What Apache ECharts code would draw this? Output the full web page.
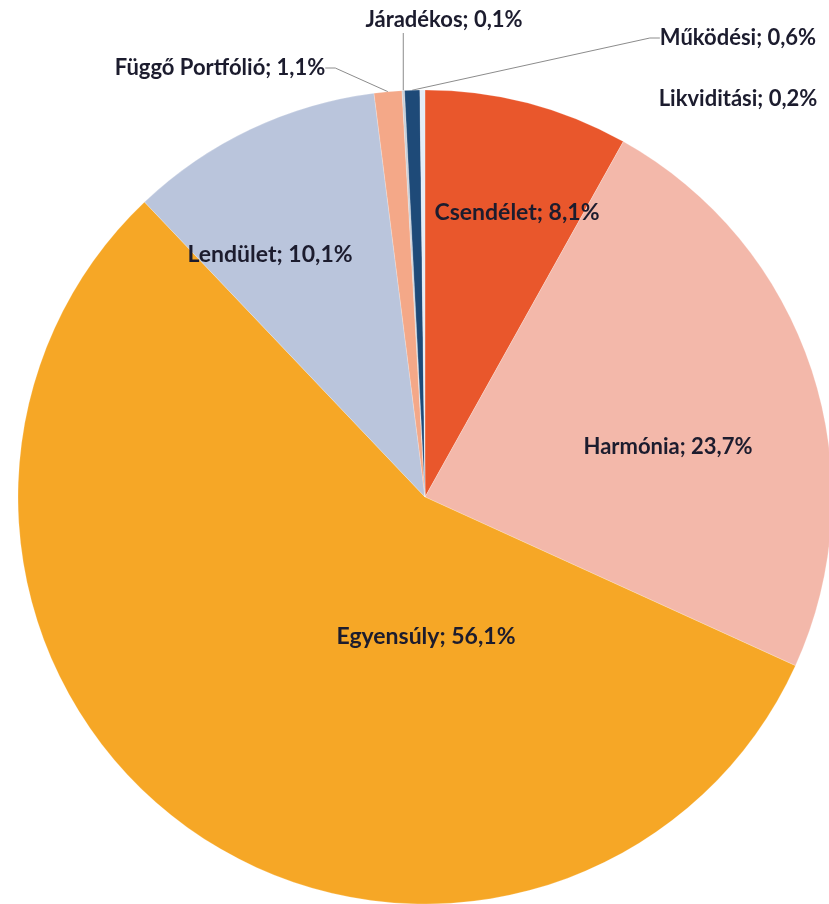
<!DOCTYPE html>
<html>
<head>
<meta charset="utf-8">
<script src="https://cdn.jsdelivr.net/npm/echarts@6/dist/echarts.min.js"></script>
<style>
html,body{margin:0;padding:0;background:#fff;}
#chart{width:829px;height:904px;}
</style>
</head>
<body>
<div id="chart"></div>
<script>
// Data (clockwise from 12 o'clock)
const categories = ['Csendélet', 'Harmónia', 'Egyensúly', 'Lendület', 'Függő Portfólió', 'Járadékos', 'Működési', 'Likviditási'];
const values = [8.1, 23.7, 56.1, 10.1, 1.1, 0.1, 0.6, 0.2];
const labelTexts = ['Csendélet; 8,1%', 'Harmónia; 23,7%', 'Egyensúly; 56,1%', 'Lendület; 10,1%', 'Függő Portfólió; 1,1%', 'Járadékos; 0,1%', 'Működési; 0,6%', 'Likviditási; 0,2%'];

// Styling (separate from data)
const colors = ['#E9572C', '#F3B8AA', '#F6A726', '#BAC5DC', '#F4A888', '#C9CFD8', '#1E4A78', '#E4ECF6'];
const outside = [false, false, false, false, true, true, true, true];
const showLine = [false, false, false, false, true, false, true, false];
const fontSizes = [23, 22, 23, 23, 22, 22, 22, 22];
const labelPos = [[517, 213], [668, 447], [426, 637], [270, 255], [220, 68], [444, 20], [738, 38], [738, 99]];

const chart = echarts.init(document.getElementById('chart'), null, {renderer: 'canvas'});
const data = categories.map((c, i) => ({
  name: c,
  value: values[i],
  itemStyle: {color: colors[i]},
  label: {position: outside[i] ? 'outside' : 'inside', formatter: labelTexts[i], fontSize: fontSizes[i]},
  labelLine: {show: showLine[i], length: 10, length2: 10, lineStyle: {color: '#8c8c8c', width: 1}}
}));

chart.setOption({
  backgroundColor: '#ffffff',
  animation: false,
  series: [{
    type: 'pie',
    center: [425, 497],
    radius: 407,
    startAngle: 90,
    clockwise: true,
    avoidLabelOverlap: false,
    itemStyle: {borderColor: 'rgba(255,255,255,0.4)', borderWidth: 0.5},
    label: {
      show: true,
      color: '#1c1c2e',
      fontFamily: 'Lato',
      fontWeight: 'bold',
      fontSize: 22
    },
    labelLayout: function (p) {
      const pos = labelPos[p.dataIndex];
      return {x: pos[0], y: pos[1], align: 'center', verticalAlign: 'middle'};
    },
    data: data
  }]
});

// Vertical leader line for the tiny "Járadékos" slice, anchored at the slice's computed layout
(function () {
  const idx = categories.indexOf('Járadékos');
  const lay = chart.getModel().getSeriesByIndex(0).getData().getItemLayout(idx);
  if (!lay) return;
  const mid = (lay.startAngle + lay.endAngle) / 2;
  const x = lay.cx + lay.r * Math.cos(mid);
  const y = lay.cy + lay.r * Math.sin(mid);
  chart.setOption({
    graphic: [{
      type: 'line',
      shape: {x1: x, y1: y, x2: x, y2: labelPos[idx][1] + 13},
      style: {stroke: '#8c8c8c', lineWidth: 1},
      silent: true
    }]
  });
})();
</script>
</body>
</html>
